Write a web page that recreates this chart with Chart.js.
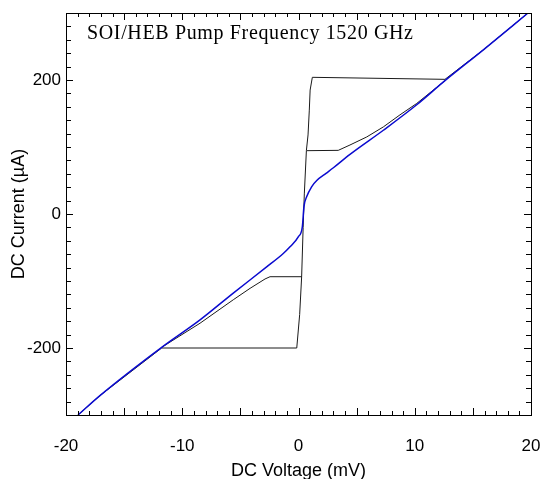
<!DOCTYPE html>
<html lang="en">
<head>
    <meta charset="UTF-8">
    <title>SOI/HEB IV curves</title>
    <script src="https://cdn.jsdelivr.net/npm/chart.js"></script>
    <style>
        html, body {
            margin: 0;
            padding: 0;
            background: #FFFFFF;
        }
        #wrap {
            width: 542px;
            height: 479px;
        }
    </style>
</head>
<body>
    <div id="wrap">
        <canvas id="ivChart" width="542" height="479"></canvas>
    </div>

    <script>
        // tick labels
        const xTickVals = [-20, -10, 0, 10, 20];
        const yTickVals = [-200, 0, 200];

        // pumped IV curve (blue)
        const blueV = [-18.97, -17.08, -11.77, -8.47, -5.61, -2.74, -1.31, -0.73, -0.02, 0.33, 0.47, 0.71, 1.14, 1.57, 2.40, 3.0, 4.43, 7.30, 10.17, 12.60, 15.9, 19.74];
        const blueI = [-300, -271, -199, -158, -118, -79, -59, -49, -34, -19, 11, 26, 41, 50, 61, 69, 89, 125, 163, 199, 245, 300];

        // outer black trace (switches at +-200 uA)
        const outerV = [-18.97, -17.08, -11.77, -0.15, 0.10, 0.27, 0.40, 0.50, 0.68, 0.82, 0.93, 1.00, 1.19, 12.60, 15.9, 19.74];
        const outerI = [-300, -271, -200, -200, -150, -94, -20, 30, 95, 118, 155, 185, 204, 201, 245, 300];

        // inner black traces
        const lowerV = [-11.77, -8.47, -5.61, -4.17, -2.88, -2.45, 0.27];
        const lowerI = [-199, -163, -128, -111, -97, -93.6, -93.6];
        const upperV = [0.70, 3.42, 4.43, 5.87, 7.30, 8.73, 10.17, 12.60];
        const upperI = [94.5, 95, 103, 115, 130, 148, 165, 199];

        const plotLabel = 'SOI/HEB Pump Frequency 1520 GHz';

        const toPts = (xs, ys) => xs.map((v, i) => ({ x: v, y: ys[i] }));

        const line = (pts, color, width, smooth) => ({
            data: pts,
            showLine: true,
            borderColor: color,
            backgroundColor: color,
            borderWidth: width,
            pointRadius: 0,
            tension: 0,
            cubicInterpolationMode: smooth ? 'monotone' : 'default'
        });

        // frame, inward ticks and the label inside the plot
        const framePlugin = {
            id: 'frame',
            afterDraw(chart) {
                const { ctx, chartArea: a, scales: { x, y } } = chart;
                ctx.save();
                ctx.strokeStyle = '#000000';
                ctx.lineWidth = 1;
                ctx.strokeRect(a.left + 0.5, a.top + 0.5, a.right - a.left, a.bottom - a.top);

                ctx.beginPath();
                for (let v = -20; v <= 20; v += 1) {
                    const px = Math.round(x.getPixelForValue(v)) + 0.5;
                    const len = v % 5 === 0 ? 7 : 4;
                    ctx.moveTo(px, a.bottom); ctx.lineTo(px, a.bottom - len);
                    ctx.moveTo(px, a.top); ctx.lineTo(px, a.top + len);
                }
                for (let v = -300; v <= 300; v += 20) {
                    const py = Math.round(y.getPixelForValue(v)) + 0.5;
                    const len = v % 200 === 0 ? 7 : 5;
                    ctx.moveTo(a.left, py); ctx.lineTo(a.left + len, py);
                    ctx.moveTo(a.right, py); ctx.lineTo(a.right - len, py);
                }
                ctx.stroke();

                ctx.fillStyle = '#000000';
                ctx.font = '20px "Liberation Serif", "Times New Roman", serif';
                ctx.textBaseline = 'alphabetic';
                // the original lettering runs a little wider than Times
                const w = ctx.measureText(plotLabel).width;
                ctx.letterSpacing = Math.max(0, (326 - w) / (plotLabel.length - 1)) + 'px';
                ctx.fillText(plotLabel, 87, 39);
                ctx.restore();
            }
        };

        const tickFont = { family: '"Liberation Sans", Arial, sans-serif', size: 17 };
        const titleFont = { family: '"Liberation Sans", Arial, sans-serif', size: 18 };

        new Chart(document.getElementById('ivChart'), {
            type: 'scatter',
            data: {
                datasets: [
                    line(toPts(blueV, blueI), '#0A0ACF', 1.5, true),
                    line(toPts(outerV, outerI), '#1A1A1A', 1, false),
                    line(toPts(lowerV, lowerI), '#1A1A1A', 1, false),
                    line(toPts(upperV, upperI), '#1A1A1A', 1, false)
                ]
            },
            options: {
                responsive: false,
                animation: false,
                layout: { padding: { top: 13, right: 11, left: 0, bottom: 0 } },
                plugins: {
                    legend: { display: false },
                    tooltip: { enabled: false }
                },
                scales: {
                    x: {
                        type: 'linear',
                        min: -20,
                        max: 20,
                        afterBuildTicks: (s) => { s.ticks = xTickVals.map(v => ({ value: v })); },
                        afterFit: (s) => { s.height = 64; s.paddingLeft = 0; s.paddingRight = 0; },
                        grid: { display: false, drawTicks: false },
                        border: { display: false },
                        ticks: { color: '#000000', font: tickFont, padding: 21, maxRotation: 0 },
                        title: {
                            display: true,
                            text: 'DC Voltage (mV)',
                            color: '#000000',
                            font: titleFont,
                            padding: { top: 0, bottom: -3 }
                        }
                    },
                    y: {
                        type: 'linear',
                        min: -300,
                        max: 300,
                        afterBuildTicks: (s) => { s.ticks = yTickVals.map(v => ({ value: v })); },
                        afterFit: (s) => { s.width = 66; s.paddingTop = 0; s.paddingBottom = 0; },
                        grid: { display: false, drawTicks: false },
                        border: { display: false },
                        ticks: { color: '#000000', font: tickFont, padding: 5 },
                        title: {
                            display: true,
                            text: 'DC Current (\u00B5A)',
                            color: '#000000',
                            font: titleFont,
                            padding: { top: 8, bottom: 0 }
                        }
                    }
                }
            },
            plugins: [framePlugin]
        });
    </script>
</body>
</html>
